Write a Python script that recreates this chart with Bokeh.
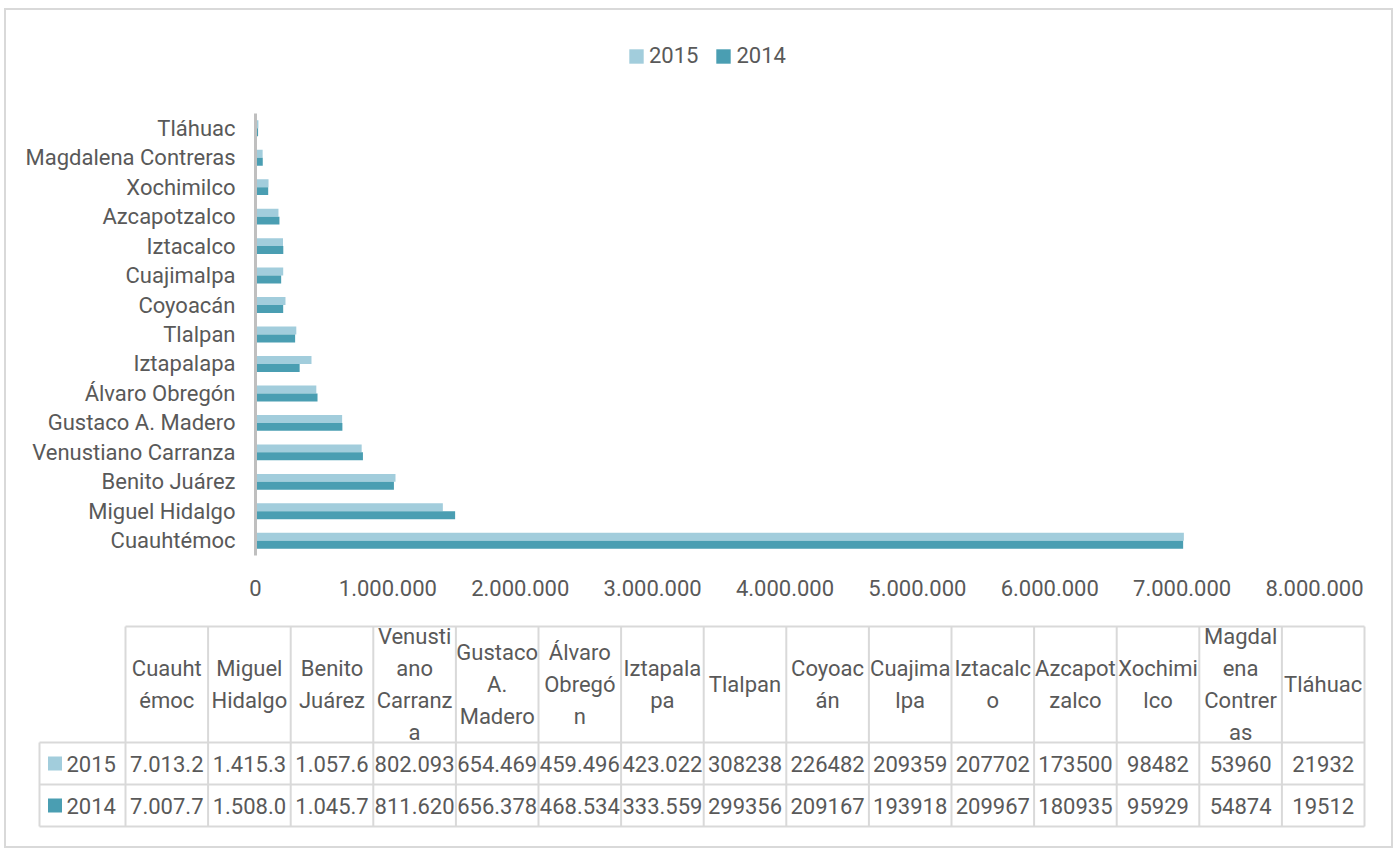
from bokeh.plotting import figure
from bokeh.models import (ColumnDataSource, FactorRange, Range1d, FixedTicker,
                          Legend, LegendItem)
from bokeh.transform import dodge
from bokeh.core.properties import value
from bokeh.embed import file_html
from bokeh.resources import INLINE

# ---------------- data ----------------
categories = ["Cuauhtémoc", "Miguel Hidalgo", "Benito Juárez", "Venustiano Carranza",
              "Gustaco A. Madero", "Álvaro Obregón", "Iztapalapa", "Tlalpan",
              "Coyoacán", "Cuajimalpa", "Iztacalco", "Azcapotzalco", "Xochimilco",
              "Magdalena Contreras", "Tláhuac"]
values_2015 = [7013200, 1415300, 1057600, 802093, 654469, 459496, 423022, 308238,
               226482, 209359, 207702, 173500, 98482, 53960, 21932]
values_2014 = [7007700, 1508000, 1045700, 811620, 656378, 468534, 333559, 299356,
               209167, 193918, 209967, 180935, 95929, 54874, 19512]
series_names = ["2015", "2014"]
x_ticks = [0, 1000000, 2000000, 3000000, 4000000, 5000000, 6000000, 7000000, 8000000]
x_tick_labels = ["0", "1.000.000", "2.000.000", "3.000.000", "4.000.000",
                 "5.000.000", "6.000.000", "7.000.000", "8.000.000"]
header_labels = ["Cuauht\némoc", "Miguel\nHidalgo", "Benito\nJuárez",
                 "Venusti\nano\nCarranz\na", "Gustaco\nA.\nMadero", "Álvaro\nObregó\nn",
                 "Iztapala\npa", "Tlalpan", "Coyoac\nán", "Cuajima\nlpa", "Iztacalc\no",
                 "Azcapot\nzalco", "Xochimi\nlco", "Magdal\nena\nContrer\nas", "Tláhuac"]
table_2015 = ["7.013.2", "1.415.3", "1.057.6", "802.093", "654.469", "459.496", "423.022",
              "308238", "226482", "209359", "207702", "173500", "98482", "53960", "21932"]
table_2014 = ["7.007.7", "1.508.0", "1.045.7", "811.620", "656.378", "468.534", "333.559",
              "299356", "209167", "193918", "209967", "180935", "95929", "54874", "19512"]

# ---------------- style ----------------
FONT = "Roboto"
FS = "22px"
TXT = "#595959"
C2015 = "#A2CDDC"
C2014 = "#4A9EB2"
GRID = "#D9D9D9"
BORDER = "2px solid #D9D9D9"

W = 1389          # canvas width (page x 6 .. 1395)
X0 = 6            # page x of canvas left


def bare(fig):
    fig.axis.visible = False
    fig.xgrid.visible = False
    fig.ygrid.visible = False
    fig.outline_line_color = None
    fig.background_fill_color = "white"
    fig.border_fill_color = "white"


# ---------------- legend strip (page y 10 .. 115) ----------------
lg = figure(width=W, height=105, x_range=Range1d(0, 1), y_range=Range1d(0, 1),
            output_backend="svg", toolbar_location=None,
            min_border_left=0, min_border_right=0, min_border_top=0, min_border_bottom=0)
lg.styles = {"margin-left": "4px", "margin-top": "8px", "border-left": BORDER,
             "border-right": BORDER, "border-top": BORDER}
bare(lg)
# legend proxies (NaN: nothing drawn in the strip itself, only the legend swatches)
nan = float("nan")
k15 = lg.rect(x=[nan], y=[nan], width=0.1, height=0.1, fill_color=C2015, line_color=None)
k14 = lg.rect(x=[nan], y=[nan], width=0.1, height=0.1, fill_color=C2014, line_color=None)
legend = Legend(items=[LegendItem(label=series_names[0], renderers=[k15]),
                       LegendItem(label=series_names[1], renderers=[k14])],
                orientation="horizontal", location=(621, 47),
                glyph_width=18, glyph_height=18, label_standoff=4, spacing=16,
                padding=0, margin=0, border_line_color=None, background_fill_alpha=0,
                label_text_font=FONT, label_text_font_size=FS, label_text_color=TXT)
lg.add_layout(legend, "center")

# ---------------- chart (page y 115 .. 620) ----------------
src = ColumnDataSource(dict(cat=categories, v2015=values_2015, v2014=values_2014))

p = figure(width=W, height=505, y_range=FactorRange(factors=categories, range_padding=0),
           x_range=Range1d(0, 8000000), output_backend="svg", toolbar_location=None,
           min_border_left=249, min_border_right=81, min_border_top=0,
           min_border_bottom=63)
p.styles = {"margin-left": "4px", "border-left": BORDER, "border-right": BORDER}
p.outline_line_color = None
p.xgrid.visible = False
p.ygrid.visible = False
p.background_fill_color = "white"
p.border_fill_color = "white"

r15 = p.hbar(y=dodge("cat", 0.135, range=p.y_range), left=0, right="v2015", height=0.27,
             source=src, fill_color=C2015, line_color=None)
r14 = p.hbar(y=dodge("cat", -0.135, range=p.y_range), left=0, right="v2014", height=0.27,
             source=src, fill_color=C2014, line_color=None)

xa = p.xaxis[0]
xa.ticker = FixedTicker(ticks=x_ticks)
xa.major_label_overrides = {t: l for t, l in zip(x_ticks, x_tick_labels)}
xa.axis_line_color = None
xa.major_tick_line_color = None
xa.minor_tick_line_color = None
xa.major_label_text_font = FONT
xa.major_label_text_font_size = FS
xa.major_label_text_color = TXT
xa.major_label_standoff = 18

ya = p.yaxis[0]
ya.axis_line_color = "#BFBFBF"
ya.axis_line_width = 3
ya.major_tick_line_color = None
ya.minor_tick_line_color = None
ya.major_label_text_font = FONT
ya.major_label_text_font_size = FS
ya.major_label_text_color = TXT
ya.major_label_standoff = 14

# ---------------- data table (page y 620 .. 850) ----------------
TOP = 620
BOT = 850
t = figure(width=W, height=BOT - TOP, x_range=Range1d(X0, X0 + W), y_range=Range1d(BOT, TOP),
           output_backend="svg", toolbar_location=None,
           min_border_left=0, min_border_right=0, min_border_top=0, min_border_bottom=0)
t.styles = {"margin-left": "4px", "border-left": BORDER, "border-right": BORDER,
            "border-bottom": BORDER}
bare(t)

n = len(categories)
col0 = 125.0
cw = (1364.0 - 125.0) / n
left_edge = 39.0
y_head_top, y_head_bot, y_r1, y_r2 = 628.0, 744.0, 786.0, 828.0
col_x = [col0 + i * cw for i in range(n + 1)]
centers = [col0 + (i + 0.5) * cw for i in range(n)]

# grid lines
hx0 = [col0, left_edge, left_edge, left_edge]
hx1 = [col_x[-1]] * 4
hy = [y_head_top, y_head_bot, y_r1, y_r2]
t.segment(x0=hx0, y0=hy, x1=hx1, y1=hy, line_color=GRID, line_width=2)
vx = [left_edge] + col_x
vy0 = [y_head_bot] + [y_head_top] * (n + 1)
vy1 = [y_r2] * (n + 2)
t.segment(x0=vx, y0=vy0, x1=vx, y1=vy1, line_color=GRID, line_width=2)

# header
t.text(x=centers, y=[(y_head_top + y_head_bot) / 2] * n, text=header_labels,
       text_font=value(FONT), text_font_size=FS, text_color=TXT,
       text_align="center", text_baseline="middle", text_line_height=1.29)
# rows
row_c1 = (y_head_bot + y_r1) / 2
row_c2 = (y_r1 + y_r2) / 2
t.text(x=centers, y=[row_c1] * n, text=table_2015, text_font=value(FONT),
       text_font_size=FS, text_color=TXT, text_align="center", text_baseline="middle")
t.text(x=centers, y=[row_c2] * n, text=table_2014, text_font=value(FONT),
       text_font_size=FS, text_color=TXT, text_align="center", text_baseline="middle")
# series keys
t.rect(x=[54.5, 54.5], y=[row_c1, row_c2], width=14, height=14,
       fill_color=[C2015, C2014], line_color=None)
t.text(x=[66, 66], y=[row_c1, row_c2], text=series_names, text_font=value(FONT),
       text_font_size=FS, text_color=TXT, text_align="left", text_baseline="middle")

open("out.html", "w").write(file_html([lg, p, t], INLINE))
